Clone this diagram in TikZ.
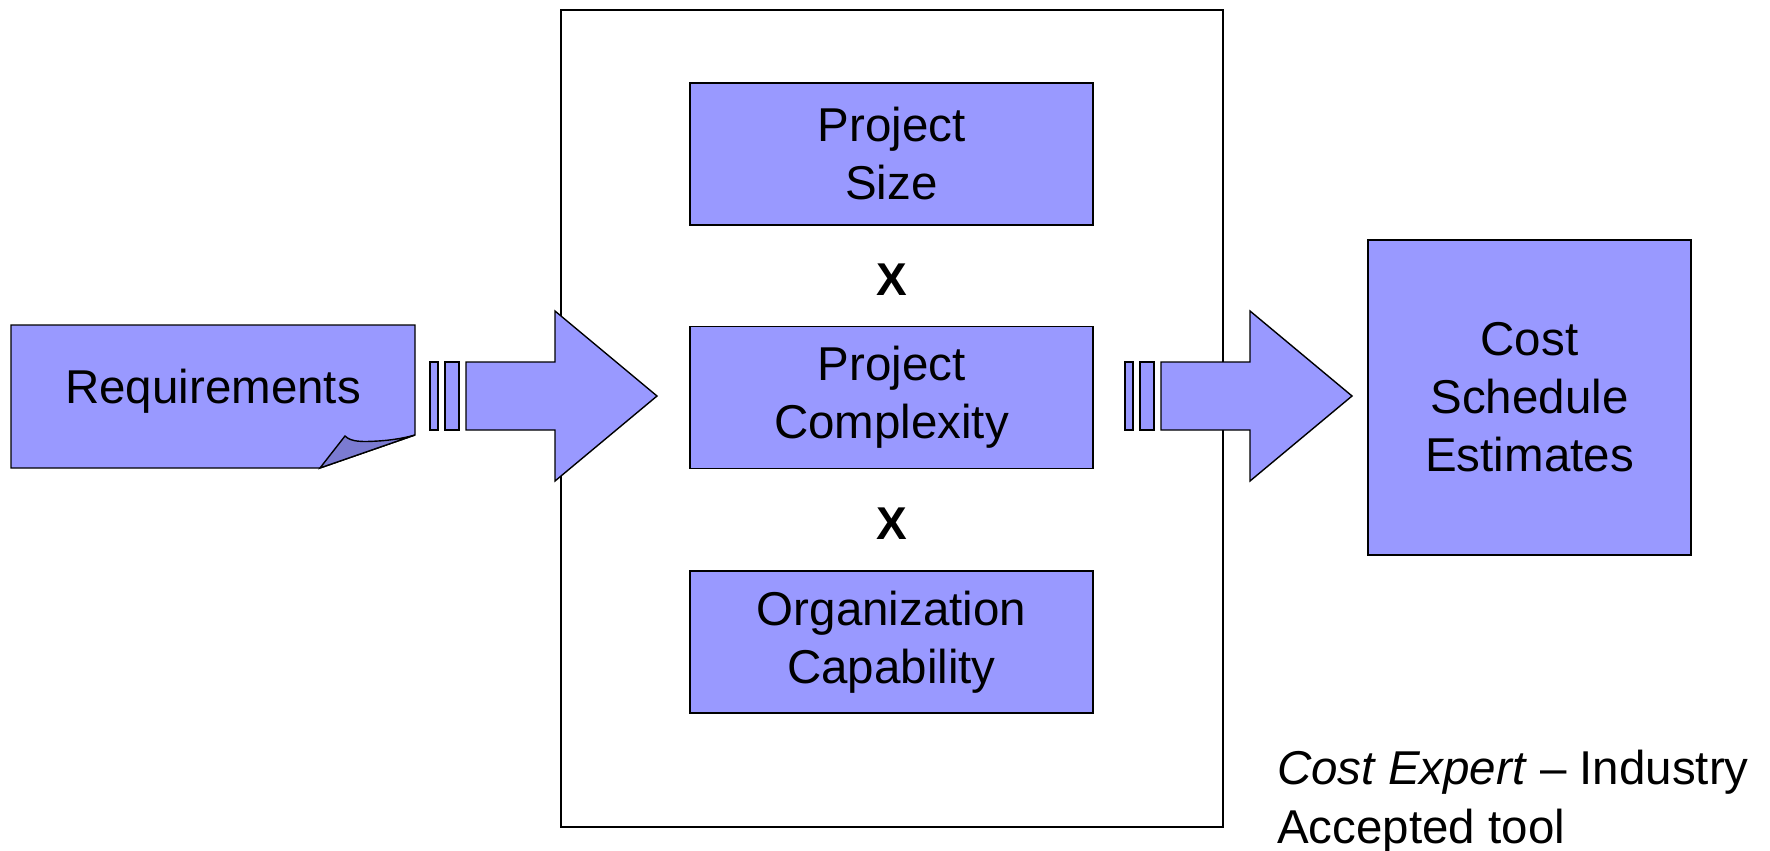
\documentclass[tikz,border=0pt]{standalone}
\usepackage{fontspec}
\setmainfont{Liberation Sans}
\definecolor{boxfill}{HTML}{9999FF}
\definecolor{foldfill}{HTML}{7B7BD1}
\newcommand{\labelfont}{\fontsize{47.5}{58}\selectfont}
\newcommand{\notefont}{\fontsize{47.5}{59}\selectfont}
\newcommand{\timesfont}{\fontsize{46}{52}\selectfont\bfseries}
\begin{document}
\begin{tikzpicture}[x=1pt,y=-1pt,
  shapefill/.style={draw=black, fill=boxfill, line width=1.4pt, line join=miter},
  factorbox/.style={shapefill, inner sep=0pt, align=center, font=\labelfont,
    minimum width=403pt, minimum height=142pt},
  timessign/.style={font=\timesfont, inner sep=0pt},
  pics/flowarrow/.style={code={
    \draw[shapefill] (0,-34) rectangle (8,34);
    \draw[shapefill] (15,-34) rectangle (29,34);
    \draw[shapefill] (36,-34) -- (125,-34) -- (125,-85) -- (227,0)
      -- (125,85) -- (125,34) -- (36,34) -- cycle;
  }}]
\useasboundingbox (0,0) rectangle (1770,851);

% frame holding the three estimation factors
\node[draw=black, line width=1.4pt, minimum width=662pt, minimum height=817pt,
  inner sep=0pt] (frame) at (892,418.5) {};

% factors
\node[factorbox] (size) at (891.5,154) {Project\\Size};
\node[timessign] (x1) at (891.5,280) {X};
\node[factorbox] (complexity) at (891.5,397.5) {Project\\Complexity};
\node[timessign] (x2) at (891.5,523.5) {X};
\node[factorbox] (capability) at (891.5,642) {Organization\\Capability};

% requirements sheet with a curled corner
\coordinate (reqNW) at (11,325);
\coordinate (reqNE) at (415,325);
\coordinate (reqSW) at (11,468);
\coordinate (curlR) at (415,435);
\coordinate (curlB) at (320,468);
\coordinate (curlT) at (345,436);
\draw[shapefill] (reqNW) -- (reqNE) -- (curlR) -- (curlB) -- (reqSW) -- cycle;
\draw[shapefill, fill=foldfill] (curlB) -- (curlT)
  .. controls (351,442) and (362,442) .. (378,441)
  .. controls (395,440) and (408,437) .. (curlR) -- cycle;
\node[font=\labelfont, anchor=base, inner sep=0pt] (req) at (213,403) {Requirements};

% output box
\node[shapefill, inner sep=0pt, align=center, font=\labelfont,
  minimum width=323pt, minimum height=315pt] (estimates) at (1529.5,397.5)
  {Cost\\Schedule\\Estimates};

% flow arrows, drawn over the frame
\pic at (430,396) {flowarrow};
\pic at (1125,396) {flowarrow};

% note (the base anchor sits on the last line)
\node[font=\notefont, anchor=base west, align=left, inner sep=0pt] (note)
  at (1277,843) {\textit{Cost Expert} -- Industry\\Accepted tool};
\end{tikzpicture}
\end{document}
